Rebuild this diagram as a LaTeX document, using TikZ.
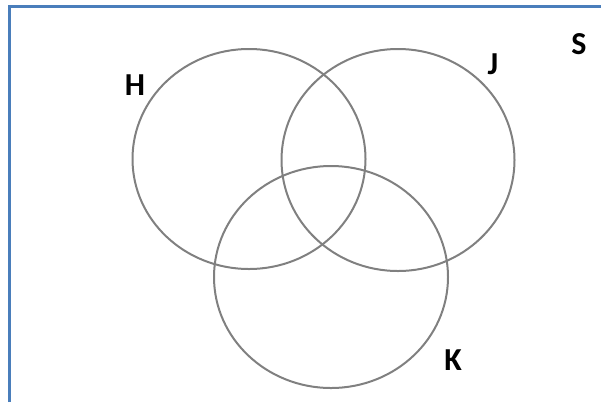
\documentclass[tikz,border=0pt]{standalone}
\usepackage{fontspec}
\setmainfont{Carlito}
\usetikzlibrary{positioning}

\definecolor{frameblue}{RGB}{74,126,187}
\definecolor{setgray}{RGB}{128,128,128}

\begin{document}
\begin{tikzpicture}[
    x=1pt, y=-1pt,
    frame/.style={draw=frameblue, line width=3pt},
    setline/.style={draw=setgray, line width=2pt},
    setlabel/.style={inner sep=0pt, font=\fontsize{32}{36}\selectfont\bfseries}
]
\useasboundingbox (0,0) rectangle (601,402);
\draw[frame] (9,402) -- (9,6) -- (601,6);

\draw[setline] (249,159) ellipse [x radius=116.5pt, y radius=110pt];
\draw[setline] (398,160) ellipse [x radius=116.5pt, y radius=111pt];
\draw[setline] (331,277) ellipse [x radius=117pt, y radius=111pt];

\node[setlabel] (labelH) at (135,85) {H};
\node[setlabel] (labelJ) at (493,64) {J};
\node[setlabel] (labelS) at (579,44) {S};
\node[setlabel] (labelK) at (453,360) {K};
\end{tikzpicture}
\end{document}
